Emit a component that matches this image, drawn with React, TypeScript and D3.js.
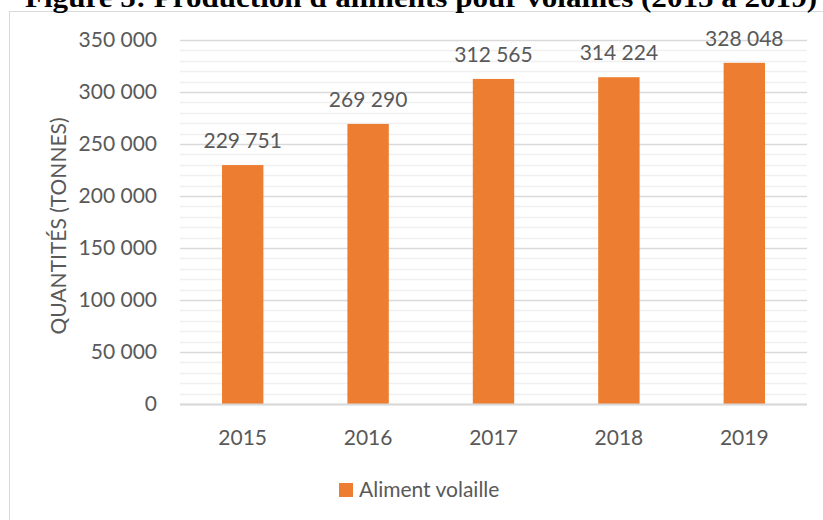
import * as d3 from 'd3'

// données
const years = ['2015', '2016', '2017', '2018', '2019']
const quantities = [229751, 269290, 312565, 314224, 328048]
const majorTicks = [0, 50000, 100000, 150000, 200000, 250000, 300000, 350000]
const seriesName = 'Aliment volaille'
const yTitle = 'QUANTITÉS (TONNES)'
const title = "Figure 5: Production d'aliments pour volailles (2015 à 2019)"

const W = 823
const H = 520
const marginLeft = 180
const marginRight = 16
const marginTop = 40
const plotBottom = 404

const orange = '#ED7D31'
const textColor = '#595959'
const font = 'Lato, "Open Sans", sans-serif'

const fr = d3.formatLocale({ decimal: ',', thousands: '\u00a0', grouping: [3], currency: ['', ''] })
const fmt = fr.format(',d')

export default function App() {
	const x = d3.scaleBand().domain(years).range([marginLeft, W - marginRight]).paddingInner(0.67).paddingOuter(0.335)
	const y = d3.scaleLinear().domain([0, 350000]).range([plotBottom, marginTop])
	const minorTicks = d3.range(0, 350001, 10000).filter(v => v % 50000 != 0)

	return (
		<svg width={W} height={H} style={{ position: 'absolute', left: 0, top: 0, background: '#fff' }} fontFamily={font}>
			{/* cadre du graphique, coupé à droite et en bas */}
			<rect x={9.5} y={11.5} width={900} height={600} fill="#fff" stroke="#d9d9d9" strokeWidth={1} />

			{/* titre, coupé en haut comme sur l'original */}
			<text x={421} y={7} textAnchor="middle" fontFamily='"Liberation Serif", "Times New Roman", serif' fontWeight="bold" fontSize={27} textLength={792} lengthAdjust="spacingAndGlyphs" fill="#000">{title}</text>

			{/* quadrillage secondaire */}
			{minorTicks.map(v => (
				<line key={'m' + v} x1={marginLeft} x2={W - marginRight} y1={Math.round(y(v)) + 0.5} y2={Math.round(y(v)) + 0.5} stroke="#f0f0f0" strokeWidth={1.5} />
			))}
			{majorTicks.map(v => (
				<line key={'g' + v} x1={marginLeft} x2={W - marginRight} y1={Math.round(y(v)) + 0.5} y2={Math.round(y(v)) + 0.5} stroke="#d9d9d9" strokeWidth={1.5} />
			))}

			{/* barres */}
			{quantities.map((q, i) => (
				<rect key={years[i]} x={x(years[i])} y={y(q)} width={x.bandwidth()} height={plotBottom - y(q)} fill={orange} />
			))}
			<line x1={marginLeft} x2={W - marginRight} y1={plotBottom + 0.5} y2={plotBottom + 0.5} stroke="#d9d9d9" strokeWidth={2} />

			{/* étiquettes de données */}
			{quantities.map((q, i) => (
				<text key={'l' + i} x={(x(years[i]) || 0) + x.bandwidth() / 2} y={y(q) - 17} textAnchor="middle" fontSize={21} fill={textColor}>{fmt(q)}</text>
			))}

			{/* axe y */}
			{majorTicks.map(v => (
				<text key={'t' + v} x={157} y={y(v) + 7} textAnchor="end" fontSize={21} fill={textColor}>{fmt(v)}</text>
			))}
			<text transform={`translate(66, 226) rotate(-90)`} textAnchor="middle" fontSize={21} fill={textColor}>{yTitle}</text>

			{/* axe x */}
			{years.map(yr => (
				<text key={'x' + yr} x={(x(yr) || 0) + x.bandwidth() / 2} y={445} textAnchor="middle" fontSize={21} fill={textColor}>{yr}</text>
			))}

			{/* légende */}
			<rect x={339} y={483} width={14} height={14} fill={orange} />
			<text x={359} y={497} fontSize={21} fill={textColor}>{seriesName}</text>
		</svg>
	)
}
